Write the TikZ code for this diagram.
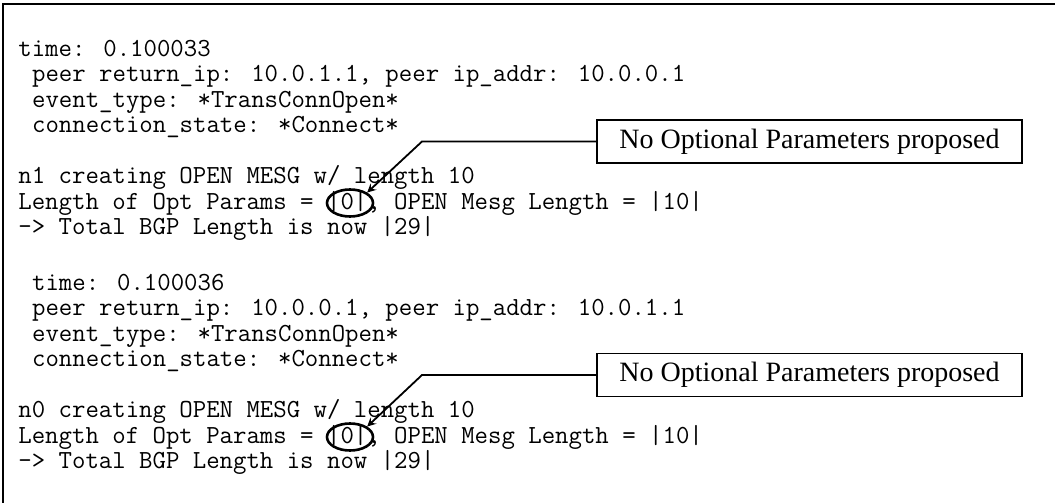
\documentclass[tikz,border=0pt]{standalone}
\usepackage{fontspec}
\usepackage{tikz}
\usetikzlibrary{arrows,shapes,positioning}
\newfontfamily\notefont{Liberation Serif}
\tikzstyle{logline} = [anchor=west, inner sep=0pt, text height=8pt, text depth=2.5pt, font=\ttfamily\fontsize{13.03}{15}\selectfont]
\tikzstyle{note} = [rectangle, minimum width=212.5pt, minimum height=21.5pt, text centered, draw, line width=0.8pt, font=\notefont\fontsize{14}{16}\selectfont]
\tikzstyle{circled} = [ellipse, draw, line width=1.3pt, minimum width=23pt, minimum height=13.5pt, inner sep=0pt]
\tikzstyle{arrow} = [line width=0.9pt,->,>=stealth]

\begin{document}
\begin{tikzpicture}[x=0.5pt, y=-0.5pt]
\useasboundingbox (0,0) rectangle (1055,503);
\draw[line width=1pt] (3,503) -- (3,4) -- (1055,4);

% first OPEN message
\node[logline] (t1) at (18,50.5) {time: 0.100033};
\node[logline] (p1) at (31.7,76) {peer return\_ip: 10.0.1.1, peer ip\_addr: 10.0.0.1};
\node[logline] (e1) at (31.7,101.5) {event\_type: *TransConnOpen*};
\node[logline] (c1) at (31.7,127) {connection\_state: *Connect*};
\node[logline] (m1) at (18,178) {n1 creating OPEN MESG w/ length 10};
\node[logline] (l1) at (18,203.5) {Length of Opt Params = |0|, OPEN Mesg Length = |10|};
\node[logline] (b1) at (18,229) {-> Total BGP Length is now |29|};

% second OPEN message
\node[logline] (t2) at (31.7,284.5) {time: 0.100036};
\node[logline] (p2) at (31.7,310) {peer return\_ip: 10.0.0.1, peer ip\_addr: 10.0.1.1};
\node[logline] (e2) at (31.7,335.5) {event\_type: *TransConnOpen*};
\node[logline] (c2) at (31.7,361) {connection\_state: *Connect*};
\node[logline] (m2) at (18,412) {n0 creating OPEN MESG w/ length 10};
\node[logline] (l2) at (18,437.5) {Length of Opt Params = |0|, OPEN Mesg Length = |10|};
\node[logline] (b2) at (18,463) {-> Total BGP Length is now |29|};

% callouts
\node[circled] (zero1) at (350,203) {};
\node[circled] (zero2) at (350,437) {};
\node[note] (note1) at (809.5,141.5) {No Optional Parameters proposed};
\node[note] (note2) at (809.5,375) {No Optional Parameters proposed};
\coordinate (bend1) at (422,141.5);
\coordinate (bend2) at (422,375);

\draw[arrow] (note1.west) -- (bend1) -- (zero1.north east);
\draw[arrow] (note2.west) -- (bend2) -- (zero2.north east);
\end{tikzpicture}
\end{document}
